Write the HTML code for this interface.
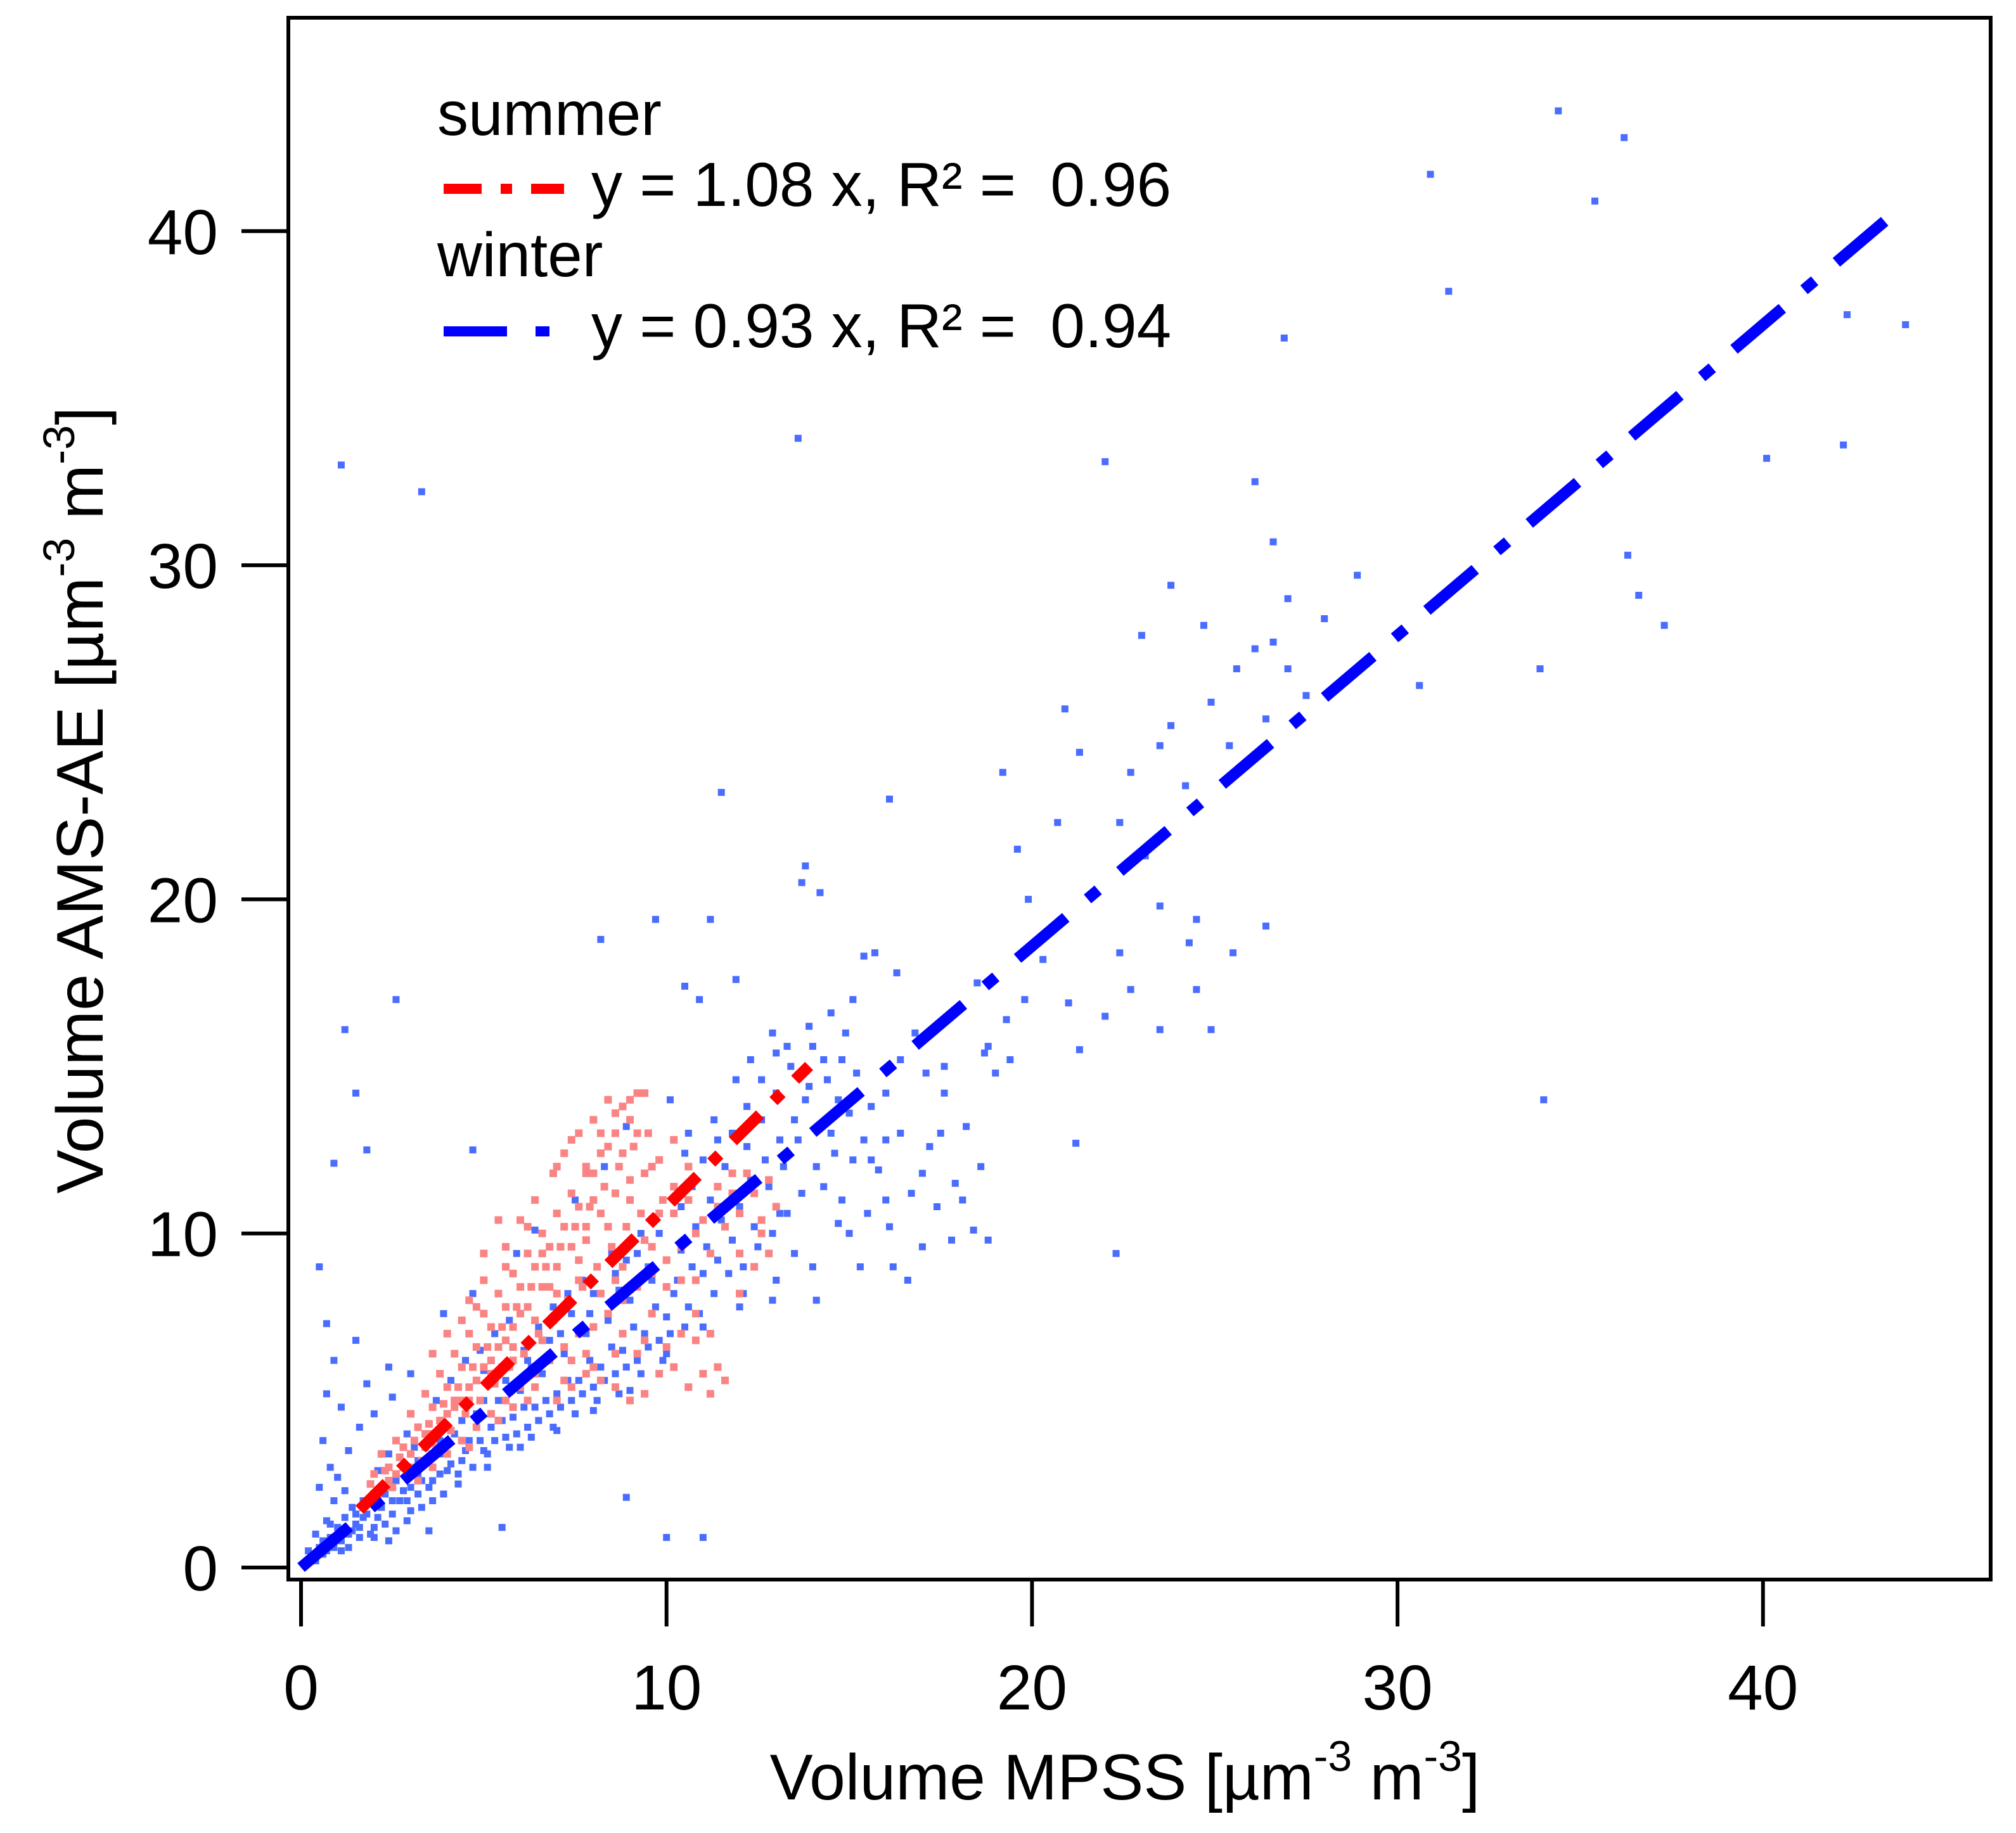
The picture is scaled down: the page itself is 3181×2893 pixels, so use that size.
<!DOCTYPE html>
<html><head><meta charset="utf-8"><style>
html,body{margin:0;padding:0;background:#fff}
svg{display:block;font-family:"Liberation Sans",Arial,sans-serif}
</style></head><body>
<svg id="chart" width="3181" height="2893" viewBox="0 0 3181 2893" xmlns="http://www.w3.org/2000/svg">
<rect x="0" y="0" width="3181" height="2893" fill="#fff"/>
<g id="points"></g>
<g id="fits"></g>
<rect x="455" y="28" width="2686" height="2465" fill="none" stroke="#000" stroke-width="6"/>
<g id="axes"></g>
<g font-size="98">
<text x="690" y="213">summer</text>
<line x1="700" y1="298" x2="890" y2="298" stroke="#f00" stroke-width="16" stroke-dasharray="60 30 18 30"/>
<text x="933" y="325">y = 1.08 x, R² = &#160;0.96</text>
<text x="690" y="436">winter</text>
<line x1="700" y1="523" x2="890" y2="523" stroke="#00f" stroke-width="16" stroke-dasharray="100 45 22 45"/>
<text x="933" y="548">y = 0.93 x, R² = &#160;0.94</text>
</g>
<text x="1775" y="2840" font-size="102" text-anchor="middle">Volume MPSS [µm<tspan dy="-45" font-size="68">-3</tspan><tspan dy="45"> m</tspan><tspan dy="-45" font-size="68">-3</tspan><tspan dy="45">]</tspan></text>
<text transform="translate(162,1263) rotate(-90)" font-size="104" text-anchor="middle">Volume AMS-AE [µm<tspan dy="-45" font-size="70">-3</tspan><tspan dy="45"> m</tspan><tspan dy="-45" font-size="70">-3</tspan><tspan dy="45">]</tspan></text>
</svg>
<script>
const xTicks=[0,10,20,30,40];
const yTicks=[0,10,20,30,40];
const winterSlope=0.93, winterFitRange=[0,43.5];
const summerSlope=1.08, summerFitRange=[1.6,13.9];
const winterPts=[[0.3,0.3],[0.5,0.6],[0.6,0.4],[0.8,0.9],[0.9,0.6],[1.0,1.2],[1.1,0.8],[1.2,1.5],[1.3,1.0],[1.4,1.8],[1.5,1.3],[1.6,0.9],[0.4,1.0],[0.7,1.4],[0.9,2.0],[1.2,2.3],[0.5,2.4],[0.8,3.0],[1.0,2.7],[1.7,2.0],[1.8,1.6],[1.9,2.5],[2.0,1.2],[2.1,2.9],[2.2,1.8],[2.3,2.2],[2.4,3.4],[2.5,1.6],[2.6,2.6],[2.7,2.0],[2.8,3.0],[2.9,1.4],[3.0,2.4],[3.1,3.6],[3.2,2.8],[3.3,1.8],[3.4,3.2],[0.6,3.8],[1.3,3.5],[1.6,4.2],[2.0,4.6],[0.7,5.2],[1.1,4.8],[2.5,5.1],[1.8,5.5],[0.9,6.2],[1.5,6.8],[2.4,6.0],[3.0,5.8],[1.4,1.1],[1.1,0.5],[2.0,0.9],[2.4,0.8],[3.5,1.1],
[3.6,2.6],[3.8,3.4],[4.0,2.9],[4.2,4.0],[4.4,3.2],[4.6,3.8],[4.8,4.6],[5.0,3.5],[5.2,4.2],[5.4,5.0],[5.6,3.9],[5.8,4.5],[6.0,5.3],[6.2,4.2],[6.4,4.8],[6.6,5.8],[6.8,4.6],[7.0,5.2],[7.2,6.4],[7.4,5.0],[7.6,5.6],[7.8,7.0],[8.0,5.4],[8.2,6.0],[8.4,7.4],[8.6,5.8],[8.8,6.5],[9.0,8.0],[9.2,6.2],[9.4,7.0],[9.6,8.6],[9.8,6.8],[10.0,7.5],[3.7,5.0],[4.1,5.6],[4.5,6.2],[4.9,6.5],[5.3,7.0],[5.7,7.4],[6.1,6.5],[6.5,7.2],[6.9,7.8],[7.3,8.2],[7.7,8.6],[8.1,9.0],[8.5,9.4],[8.9,9.2],[9.3,10.0],[9.7,10.5],[5.0,5.9],[5.5,6.0],[6.3,6.0],[7.1,7.0],[7.9,7.6],[8.7,8.3],[9.5,9.0],[4.3,2.5],[5.1,3.0],[6.0,3.6],[7.0,4.1],[8.0,4.7],[9.0,5.3],[3.9,7.6],[4.7,8.2],[5.9,9.4],[6.4,10.1],[7.5,11.0],[8.3,12.0],[8.9,13.2],[3.5,4.3],[2.9,4.0],
[10.2,8.2],[10.4,9.5],[10.6,7.8],[10.8,10.2],[11.0,8.8],[11.2,11.0],[11.4,9.2],[11.6,12.0],[11.8,9.8],[12.0,10.8],[12.2,12.6],[12.4,10.2],[12.6,13.4],[12.8,11.4],[13.0,14.2],[13.2,12.0],[13.4,15.0],[13.6,12.8],[13.8,14.0],[14.0,15.6],[14.2,13.2],[14.4,14.6],[14.6,12.4],[14.8,15.2],[15.0,13.6],[15.2,14.8],[15.4,12.8],[15.6,13.8],[15.8,11.9],[16.0,12.8],[12.3,15.2],[12.9,16.0],[13.3,15.6],[13.9,16.2],[14.5,16.6],[15.1,17.0],[15.7,18.4],[16.3,17.8],[12.1,8.2],[12.9,8.0],[13.5,9.4],[14.1,8.0],[14.7,10.3],[15.3,9.0],[16.1,10.2],[16.7,11.2],[10.5,12.4],[11.3,13.4],[11.9,14.6],[10.1,14.0],[10.7,11.4],[13.1,10.6],[14.3,11.4],[15.5,10.6],[10.9,17.0],[10.5,17.4],[11.9,17.6],[13.7,20.5],[14.2,20.2],[15.4,18.3],[16.8,16.0],[16.4,15.2],
[16.6,8.6],[17.0,9.6],[17.4,10.8],[17.8,9.8],[18.1,11.0],[18.4,10.1],[18.8,9.8],[17.2,12.6],[17.6,14.2],[18.2,13.2],[19.0,14.8],[19.4,15.2],[18.8,15.6],[17.1,14.8],[19.8,17.0],[17.9,11.5],[16.2,9.0],[17.5,13.0],[19.3,16.4],[18.6,12.0],
[1.1,33.0],[3.3,32.2],[13.6,33.8],[22.0,33.1],[30.9,41.7],[34.4,43.6],[36.2,42.8],[35.4,40.9],[31.4,38.2],[26.9,36.8],[42.3,37.5],[43.9,37.2],[40.1,33.2],[42.2,33.6],[36.3,30.3],[36.6,29.1],[37.3,28.2],[33.9,26.9],[30.6,26.4],[34.0,14.0],[22.3,9.4],[1.2,16.1],[2.6,17.0],[0.9,12.1],[1.5,14.2],[1.8,12.5],[0.5,9.0],[0.7,7.3],[4.7,12.5],[11.5,23.2],[13.8,21.0],[16.1,23.0],[9.7,19.4],[11.2,19.4],[8.2,18.8],[8.9,2.1],[10.0,0.9],[11.0,0.9],[5.5,1.2],[20.7,22.3],[19.6,21.5],[19.9,20.0],[20.9,25.7],[21.3,24.4],[22.7,23.8],[23.0,27.9],[23.8,29.4],[24.7,28.2],[24.9,25.9],[25.6,26.9],[26.1,27.5],[26.6,27.7],[27.0,26.9],[27.5,26.1],[26.6,30.7],[26.1,32.5],[27.0,29.0],[28.0,28.4],[28.9,29.7],[26.4,25.4],[23.8,25.2],[23.5,24.6],[24.2,23.4],[25.4,24.6],[22.4,22.3],[23.1,21.3],[23.5,19.8],[24.5,19.4],[25.5,18.4],[26.4,19.2],[24.5,17.3],[22.7,17.3],[23.5,16.1],[22.0,16.5],[21.0,16.9],[21.3,15.5],[22.4,18.4],[18.7,15.4],[17.6,15.0],[19.2,23.8],[18.5,17.5],[21.2,12.7],[24.9,16.1],[24.3,18.7],[20.3,18.2],
[0.2,0.5],[0.4,0.2],[0.6,0.8],[0.7,0.5],[0.8,1.3],[1.0,0.9],[1.2,1.1],[1.3,0.6],[1.5,1.6],[1.6,1.2],[1.7,1.5],[1.9,1.0],[2.1,1.5],[2.2,2.4],[2.3,1.3],[2.5,2.0],[2.6,1.1],[2.8,2.3],[2.9,2.0],[3.0,1.7],[3.2,2.2],[3.3,2.6],[3.5,2.4],[3.6,2.0],[3.8,2.8],[3.9,2.2],[4.1,3.1],[4.3,2.8],[4.5,3.5],[4.7,3.0],[4.9,3.8],[5.1,3.4],[5.3,3.8],[5.5,4.4],[5.7,3.6],[5.9,4.0],[6.1,4.8],[6.3,3.9],[6.5,4.4],[6.7,5.0],[6.9,4.2],[7.1,4.8],[7.3,5.6],[7.5,4.6],[7.7,5.2],[7.9,6.2],[8.1,5.0],[8.3,5.6],[8.5,6.6],[8.7,5.2],[8.9,6.0],[9.1,7.2],[9.3,5.8],[9.5,6.6],[9.7,7.8],[9.9,6.2],[10.1,7.0],[10.3,8.6],[10.5,7.2],[10.7,9.0],[10.9,7.6],[11.1,9.6],[11.3,8.2],[11.5,10.4],[11.7,8.8],[11.9,11.0],[12.1,9.0],[12.3,11.6],[12.5,9.6],[12.7,12.2],[12.9,10.0],[13.1,12.8],[13.3,10.6],[13.5,13.4],[13.7,11.2],[13.9,14.4],[14.1,12.0],[14.3,15.2],[14.5,13.0],[14.7,14.0],[14.9,16.0],[15.1,12.2],[13.0,15.4],[12.6,14.6],[11.8,13.0],[11.0,12.2],[10.4,10.8],[9.8,10.0],[9.2,9.4],[8.6,8.8],[8.0,8.2],[7.4,7.6],[6.8,6.8],[6.2,6.2],[5.6,5.6],[5.0,5.0],[4.4,4.4],[3.8,3.8],[3.2,3.2],[12.0,7.8],[13.0,8.6],[14.0,9.0],[15.0,10.0],[16.0,11.0],[11.0,7.2],[10.0,6.4],[12.2,13.8],[11.4,12.8],[10.6,13.0],[14.8,11.0],[15.6,12.2],[16.4,13.0],[17.0,11.8],[16.0,14.2]];
const summerPts=[[1.7,1.8],[1.9,2.5],[2.1,2.0],[2.3,2.9],[2.5,2.4],[2.7,3.3],[2.9,2.8],[3.1,3.8],[3.3,3.2],[3.5,4.3],[3.7,3.6],[3.9,4.9],[4.1,4.1],[4.3,5.4],[4.5,4.6],[4.7,6.0],[4.9,5.0],[5.1,6.6],[5.3,5.5],[5.5,7.2],[5.7,6.0],[5.9,7.8],[6.1,6.4],[6.3,8.4],[6.5,7.0],[6.7,9.0],[6.9,7.4],[7.1,9.6],[7.3,8.0],[7.5,10.2],[7.7,8.4],[7.9,10.8],[8.1,9.0],[8.3,11.4],[8.5,9.6],[8.7,12.0],[8.9,10.2],[9.1,12.6],[9.3,10.6],[9.5,13.0],
[2.2,3.4],[2.6,3.8],[3.0,4.6],[3.4,5.2],[3.8,5.8],[4.2,6.4],[4.6,7.0],[5.0,7.6],[5.4,8.2],[5.8,8.8],[6.2,9.4],[6.6,10.0],[7.0,10.6],[7.4,11.2],[7.8,11.8],[8.2,12.4],[8.6,13.0],[9.0,13.4],[9.4,11.8],[9.8,12.2],
[3.2,2.6],[3.6,3.0],[4.0,3.4],[4.4,3.8],[4.8,4.2],[5.2,4.6],[5.6,5.0],[6.0,5.4],[6.4,5.8],[6.8,6.2],[7.2,6.6],[7.6,7.0],[8.0,7.2],[8.4,7.6],[8.8,8.0],[9.2,8.4],[9.6,8.8],[10.0,9.2],[10.4,9.6],[10.8,10.0],
[7.0,5.0],[7.4,5.4],[7.8,5.8],[8.2,5.6],[8.6,5.4],[9.0,5.0],[9.4,5.2],[9.8,5.8],[10.2,6.0],[10.6,5.4],[11.0,5.8],[11.2,5.2],[10.4,7.0],[9.6,7.6],[10.0,8.4],[10.8,8.6],[11.2,9.4],[11.6,10.2],[12.0,10.6],[12.4,11.2],[12.6,10.4],[12.0,9.4],[11.4,11.4],[10.6,11.0],[10.2,10.6],[9.9,11.0],[11.8,11.8],[12.8,11.6],[8.4,10.2],[7.6,9.2],[6.8,8.4],[6.0,7.6],[5.6,6.8],[5.2,6.2],[4.4,5.0],[4.0,4.6],[3.6,4.0],[2.8,3.0],[2.4,2.6],[2.0,2.2],
[6.4,11.0],[6.9,11.8],[7.2,12.4],[7.6,13.0],[8.0,13.4],[8.4,14.0],[8.8,13.8],[9.2,14.2],[7.8,12.0],[6.2,10.2],[5.6,9.6],[5.0,8.6],[4.6,8.0],[4.0,7.0],[5.4,10.4],[8.0,11.0],[9.0,11.6],[9.6,10.4],[10.2,12.8],[8.6,8.6],[7.2,7.8],[6.6,6.8],[5.8,6.2],[4.8,5.6],[4.2,4.8],[3.4,3.6],[3.0,3.4],[2.6,2.8],[8.8,7.0],[9.2,6.4],[10.0,6.6],[7.4,6.2],[6.2,5.0],[5.4,4.4],[4.6,3.6],[7.8,6.4],[11.4,6.0],[10.8,6.8],[12.4,9.0],[12.6,10.0],
[2.0,2.8],[2.4,3.0],[2.8,3.6],[3.2,4.2],[3.6,4.8],[4.0,5.4],[4.4,6.0],[4.8,6.6],[5.2,7.2],[5.6,7.8],[6.0,8.4],[6.4,9.0],[6.8,9.6],[7.2,10.2],[7.6,10.8],[8.0,11.8],[8.4,12.6],[8.8,12.4],[9.2,13.0],[9.6,12.0],[3.0,3.0],[3.4,4.0],[3.8,4.4],[4.2,5.0],[4.6,5.4],[5.0,6.0],[5.4,6.6],[5.8,7.2],[6.2,7.8],[6.6,8.4],[7.0,9.0],[7.4,9.6],[7.8,10.2],[8.2,10.6],[8.6,11.2],[9.0,11.0],[9.4,9.8],[9.8,10.6],[10.2,11.4],[10.6,12.0],[11.0,10.4],[11.4,10.8],[11.8,11.2],[12.2,11.8],[7.8,9.8],[7.0,8.2],[6.4,7.4],[5.8,6.6],[5.2,5.8],[4.6,5.0],[6.6,9.4],[7.6,8.6],[8.2,8.2],[8.8,9.0],[9.6,9.6],[10.4,8.6],[10.8,7.6],[11.2,7.0],[9.4,6.8],[8.6,6.4],[8.0,6.0],[7.2,5.6],[6.4,5.4],[5.8,4.8],[11.6,5.6],[12.0,8.2],[12.8,9.4],[13.0,10.8],[7.0,12.0],[7.4,12.8],[8.2,13.0],[8.6,13.6],[9.0,14.0],[9.4,14.2],[6.0,10.4],[5.6,9.0],[5.0,9.4],[4.4,7.4],[3.6,6.4],[4.8,7.8]];

const NS="http://www.w3.org/2000/svg";
function sx(v){return 475+v*57.67;}
function sy(v){return 2474-v*52.73;}
const pts=document.getElementById('points');
function drawPts(arr,color,name,size){
  arr.forEach(p=>{
    const r=document.createElementNS(NS,'rect');
    r.setAttribute('x',sx(p[0])-size/2);r.setAttribute('y',sy(p[1])-size/2);
    r.setAttribute('width',size);r.setAttribute('height',size);r.setAttribute('fill',color);
    
    
    pts.appendChild(r);
  });
}
drawPts(winterPts,'#4a6cff','winter-point',11);
drawPts(summerPts,'#fa8484','summer-point',12);
const fits=document.getElementById('fits');
function fitLine(slope,range,color,dash,name){
  const l=document.createElementNS(NS,'line');
  l.setAttribute('x1',sx(range[0]));l.setAttribute('y1',sy(range[0]*slope));
  l.setAttribute('x2',sx(range[1]));l.setAttribute('y2',sy(range[1]*slope));
  l.setAttribute('stroke',color);l.setAttribute('stroke-width',18);
  l.setAttribute('stroke-dasharray',dash);
  
  
  fits.appendChild(l);
}
fitLine(winterSlope,winterFitRange,'#0000ff','100 45 22 45','winter-fit-line');
fitLine(summerSlope,summerFitRange,'#ff0000','60 30 18 30','summer-fit-line');
const axes=document.getElementById('axes');
xTicks.forEach(t=>{
  const l=document.createElementNS(NS,'line');
  l.setAttribute('x1',sx(t));l.setAttribute('x2',sx(t));l.setAttribute('y1',2493);l.setAttribute('y2',2567);
  l.setAttribute('stroke','#000');l.setAttribute('stroke-width',6);
  
  
  axes.appendChild(l);
  const tx=document.createElementNS(NS,'text');
  tx.setAttribute('x',sx(t));tx.setAttribute('y',2698);tx.setAttribute('font-size',100);tx.setAttribute('text-anchor','middle');
  tx.textContent=t;
  
  
  axes.appendChild(tx);
});
yTicks.forEach(t=>{
  const l=document.createElementNS(NS,'line');
  l.setAttribute('x1',381);l.setAttribute('x2',455);l.setAttribute('y1',sy(t));l.setAttribute('y2',sy(t));
  l.setAttribute('stroke','#000');l.setAttribute('stroke-width',6);
  
  
  axes.appendChild(l);
  const tx=document.createElementNS(NS,'text');
  tx.setAttribute('x',344);tx.setAttribute('y',sy(t)+36);tx.setAttribute('font-size',100);tx.setAttribute('text-anchor','end');
  tx.textContent=t;
  
  
  axes.appendChild(tx);
});
</script>
</body></html>
